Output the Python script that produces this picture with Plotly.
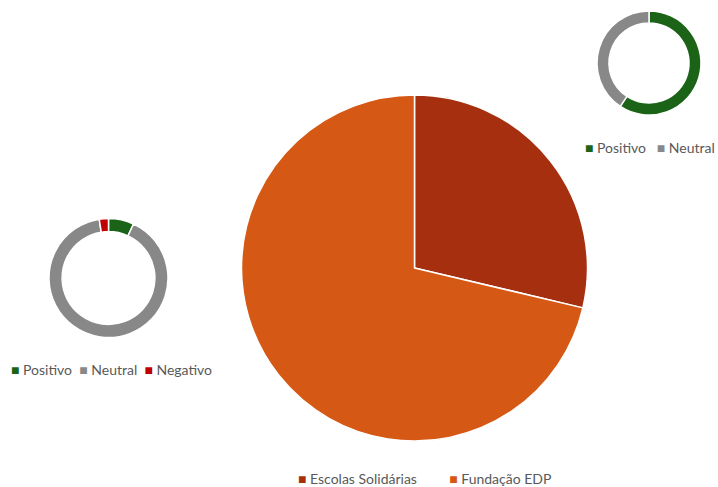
import plotly.graph_objects as go

# Main pie: share of mentions by entity
entities = ["Escolas Solidárias", "Fundação EDP"]
entity_values = [28.7, 71.3]
entity_colors = ["#A52F0F", "#D55815"]

# Sentiment donut (left)
sent_left_labels = ["Positivo", "Neutral", "Negativo"]
sent_left_values = [6.9, 90.6, 2.5]
sent_left_colors = ["#1B6316", "#888888", "#C00000"]

# Sentiment donut (top right)
sent_right_labels = ["Positivo", "Neutral"]
sent_right_values = [59.3, 40.7]
sent_right_colors = ["#1B6316", "#888888"]

W, H = 718, 487
FONT = "Lato"
TEXT_COLOR = "#595959"


def dom(cx, cy, r):
    """Paper-space domain for a circle centred at pixel (cx, cy) with radius r."""
    return dict(x=[(cx - r) / W, (cx + r) / W],
                y=[(H - cy - r) / H, (H - cy + r) / H])


def legend_text(labels, colors, gap="&nbsp;&nbsp;&nbsp;&nbsp;"):
    parts = [f'<span style="color:{c}">■</span> {l}' for l, c in zip(labels, colors)]
    return gap.join(parts)


fig = go.Figure()

common = dict(sort=False, direction="clockwise", rotation=0,
              textinfo="none", showlegend=False, hoverinfo="label+percent")

fig.add_trace(go.Pie(labels=entities, values=entity_values,
                     marker=dict(colors=entity_colors, line=dict(color="white", width=1.5)),
                     domain=dom(414.5, 268, 173), **common))

fig.add_trace(go.Pie(labels=sent_left_labels, values=sent_left_values, hole=0.78,
                     marker=dict(colors=sent_left_colors, line=dict(color="white", width=1.5)),
                     domain=dom(108.5, 278, 59.5), **common))

fig.add_trace(go.Pie(labels=sent_right_labels, values=sent_right_values, hole=0.77,
                     marker=dict(colors=sent_right_colors, line=dict(color="white", width=1.5)),
                     domain=dom(649, 63, 52), **common))

legend_font = dict(family=FONT, size=14, color=TEXT_COLOR)
fig.add_annotation(x=424 / W, y=(H - 478) / H, xref="paper", yref="paper",
                   xanchor="center", yanchor="middle", showarrow=False, borderpad=0,
                   text=legend_text(entities, entity_colors, gap="&nbsp;" * 9),
                   font=legend_font)
fig.add_annotation(x=111 / W, y=(H - 369) / H, xref="paper", yref="paper",
                   xanchor="center", yanchor="middle", showarrow=False, borderpad=0,
                   text=legend_text(sent_left_labels, sent_left_colors, gap="&nbsp;&nbsp;"),
                   font=legend_font)
fig.add_annotation(x=650 / W, y=(H - 147) / H, xref="paper", yref="paper",
                   xanchor="center", yanchor="middle", showarrow=False, borderpad=0,
                   text=legend_text(sent_right_labels, sent_right_colors, gap="&nbsp;&nbsp;&nbsp;"),
                   font=legend_font)

fig.update_layout(width=W, height=H, margin=dict(l=0, r=0, t=0, b=0),
                  paper_bgcolor="white", plot_bgcolor="white",
                  font=dict(family=FONT, color=TEXT_COLOR))

fig.write_html("out.html")
